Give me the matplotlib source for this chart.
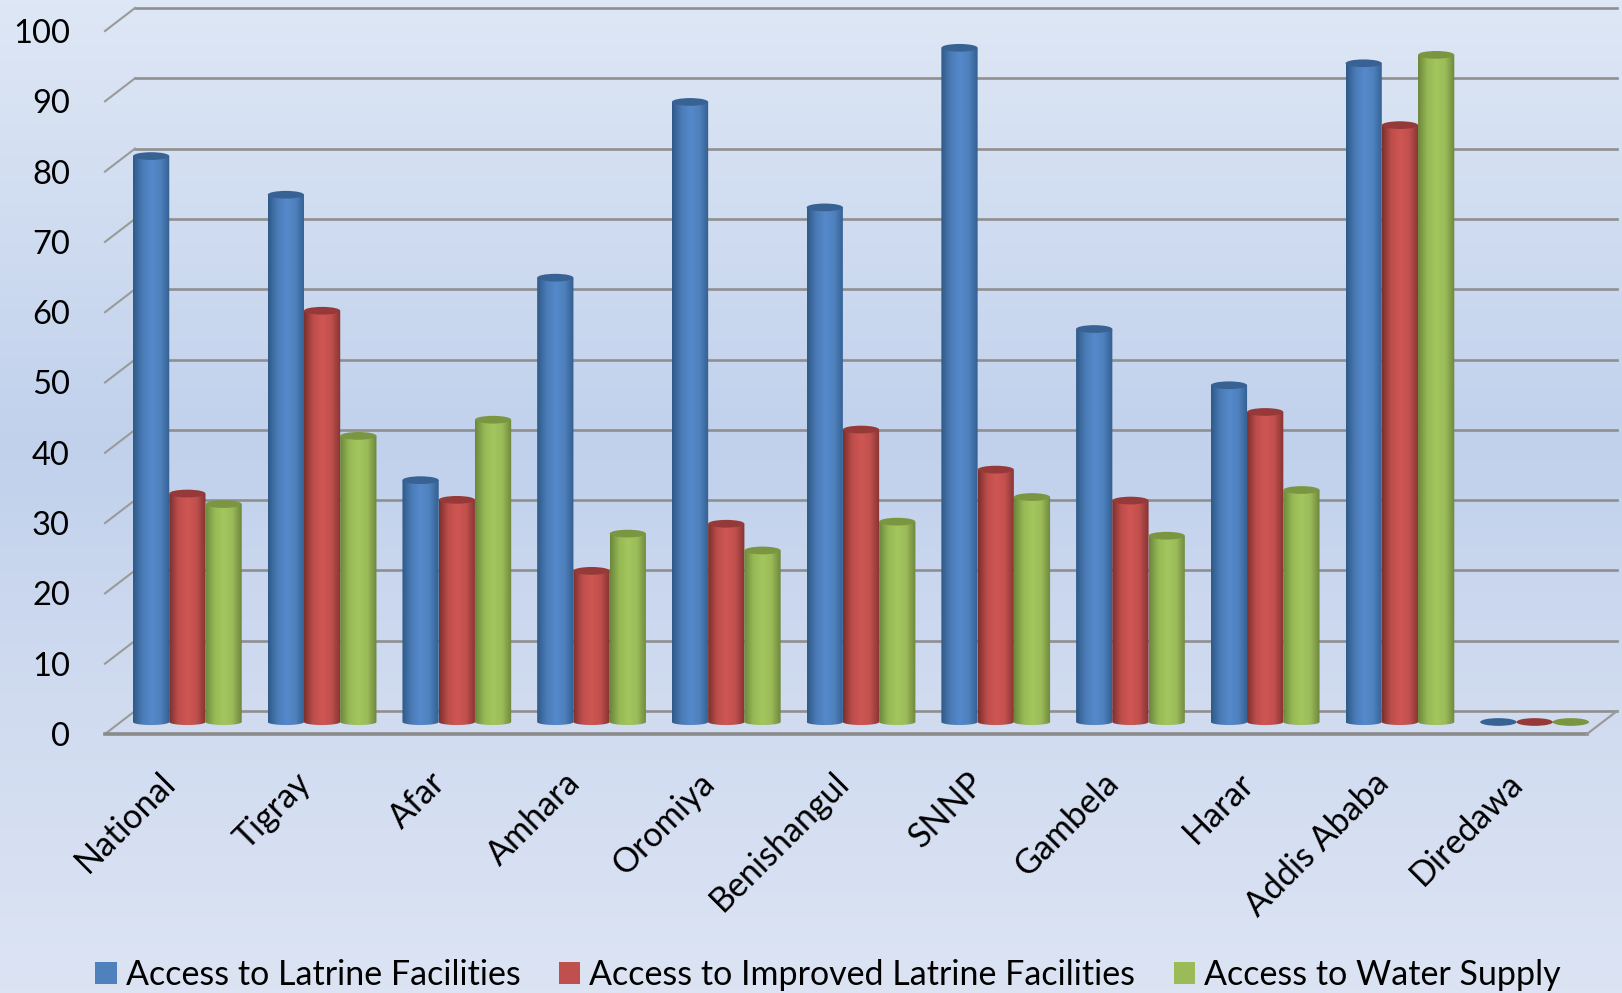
import numpy as np
import matplotlib
matplotlib.use("Agg")
import matplotlib.pyplot as plt
from matplotlib.colors import LinearSegmentedColormap
from matplotlib.patches import Ellipse, Patch, PathPatch
from matplotlib.path import Path
from matplotlib.transforms import Affine2D, IdentityTransform

plt.rcParams['font.family'] = ['Lato', 'DejaVu Sans']

regions = ["National", "Tigray", "Afar", "Amhara", "Oromiya", "Benishangul",
           "SNNP", "Gambela", "Harar", "Addis Ababa", "Diredawa"]
latrine = [80.5, 75, 34.4, 63.2, 88.2, 73.2, 95.9, 55.9, 47.9, 93.7, 0]
improved = [32.5, 58.5, 31.6, 21.5, 28.2, 41.6, 35.9, 31.5, 44.1, 84.9, 0]
water = [31, 40.7, 43, 26.8, 24.4, 28.5, 32, 26.5, 33, 94.9, 0]
series_names = ["Access to Latrine Facilities",
                "Access to Improved Latrine Facilities",
                "Access to Water Supply"]
yticks = list(range(0, 101, 10))

W, H = 1622, 993
bar_w = 0.269

fig = plt.figure(figsize=(W / 100, H / 100), dpi=100)

# page background, light at top and bottom, deeper in the middle
bg = fig.add_axes([0, 0, 1, 1], zorder=0)
bg_cmap = LinearSegmentedColormap.from_list(
    "bg", [(0, "#dee7f5"), (0.45, "#c1d1ec"), (0.7, "#d0dbf0"), (1, "#dce4f4")])
bg.imshow(np.linspace(0, 1, 256)[:, None], cmap=bg_cmap, aspect="auto",
          extent=(0, 1, 0, 1), vmin=0, vmax=1)
bg.axis("off")

# the axes box is the plane the bars stand on, pixels 120-1602 / 19-722
ax = fig.add_axes([120 / W, (H - 722) / H, 1482 / W, 703 / H], zorder=1)
ax.patch.set_alpha(0)
ax.set_xlim(0, 11)
ax.set_ylim(0, 100)

back = Affine2D().translate(15, 11)
front = Affine2D().translate(-15, -12)
grid_c = "#8f8f8f"
pixels = IdentityTransform()

for v in yticks:
    ax.plot([0, 11], [v, v], color=grid_c, lw=1.9, clip_on=False, zorder=1,
            transform=ax.transData + back)
    # short side wall piece from front corner to back corner
    x0, y0 = ax.transData.transform((0, v))
    ax.plot([x0 - 15, x0 + 15], [y0 - 12, y0 + 11], color="#9a9a9a", lw=1.5,
            clip_on=False, zorder=1, transform=pixels)

ax.plot([0, 11], [0, 0], color="#8a8a8a", lw=2.6, clip_on=False, zorder=1,
        transform=ax.transData + front)
xr, yr = ax.transData.transform((11, 0))
ax.plot([xr - 15, xr + 15], [yr - 12, yr + 11], color="#9a9a9a", lw=1.6,
        clip_on=False, zorder=1, transform=pixels)

styles = [
    (["#2f5a88", "#4a7bb6", "#5589cb", "#4f81bd", "#335f90"], "#386294"),
    (["#7d302e", "#bd4e4b", "#cf5653", "#c0504d", "#853432"], "#953a38"),
    (["#6c873c", "#97b955", "#a3c65e", "#9bbb59", "#6d863c"], "#7b9640"),
]
all_series = [latrine, improved, water]

for s, (values, (stops, top_c)) in enumerate(zip(all_series, styles)):
    cmap = LinearSegmentedColormap.from_list("c%d" % s, stops)
    grad = np.linspace(0, 1, 64)[None, :]
    for i, v in enumerate(values):
        xc = i + 0.5 + (s - 1) * bar_w
        x0, x1 = xc - bar_w / 2, xc + bar_w / 2
        # outline of the body, with a rounded foot
        t = np.linspace(np.pi, 2 * np.pi, 24)
        foot = np.column_stack([xc + bar_w / 2 * np.cos(t), 0.43 * np.sin(t)])
        verts = np.vstack([[x0, v], foot, [x1, v], [x0, v]])
        codes = [Path.MOVETO] + [Path.LINETO] * (len(verts) - 2) + [Path.CLOSEPOLY]
        im = ax.imshow(grad, cmap=cmap, aspect="auto", zorder=3,
                       extent=(x0, x1, -0.5, max(v, 0.1)))
        im.set_clip_box(fig.bbox)
        im.set_clip_path(PathPatch(Path(verts, codes), transform=ax.transData))
        ax.add_patch(Ellipse((xc, v), bar_w, 1.1, fc=top_c, ec="none",
                             zorder=4, clip_on=False))

for sp in ax.spines.values():
    sp.set_visible(False)

ax.set_yticks(yticks)
ax.tick_params(axis="y", length=0, pad=36, labelsize=23.5, labelcolor="black")
# tick labels sit on the front edge of the floor
for lab in ax.get_yticklabels():
    lab.set_transform(lab.get_transform() + Affine2D().translate(0, -12))

ax.set_xticks(np.arange(len(regions)) + 0.5)
ax.set_xticklabels(regions, rotation=45, ha="right", va="top",
                   rotation_mode="anchor", fontsize=24.5)
ax.tick_params(axis="x", length=0, pad=32)
for lab in ax.get_xticklabels():
    lab.set_transform(lab.get_transform() + Affine2D().translate(-28, 0))

handles = [Patch(fc=c, ec="none") for c in ["#4f81bd", "#c0504d", "#9bbb59"]]
fig.legend(handles, series_names, loc="center", ncol=3, frameon=False,
           bbox_to_anchor=(828 / W, (H - 975) / H), fontsize=24.5,
           handlelength=0.62, handleheight=0.62, handletextpad=0.27,
           columnspacing=1.13, borderpad=0)

fig.savefig("out.png", dpi=100)
